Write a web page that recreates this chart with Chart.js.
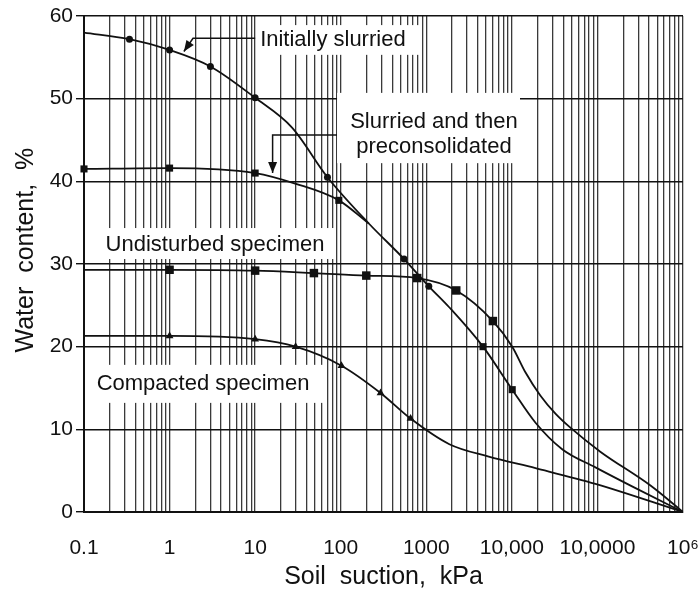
<!DOCTYPE html>
<html>
<head>
<meta charset="utf-8">
<script src="https://cdn.jsdelivr.net/npm/chart.js@4"></script>
<style>
  html, body { margin: 0; padding: 0; background: #fff; }
  #wrap { width: 699px; height: 593px; }
</style>
</head>
<body>
<div id="wrap"><canvas id="swcc"></canvas></div>
<script>
// Drying curves: soil suction (kPa) vs water content (%)
const slurriedSuction = [0.1, 0.34, 1, 3, 10, 27, 70, 213, 550, 1070, 1840, 4600, 10100, 18900, 38700, 94800, 254000, 1e6];
const slurriedWater   = [58.0, 57.2, 55.9, 53.9, 50.1, 46.5, 40.5, 34.9, 30.6, 27.3, 24.8, 20.0, 14.8, 10.8, 7.6, 5.4, 3.1, 0];

const preconSuction = [0.1, 1, 10, 30, 95, 213];
const preconWater   = [41.5, 41.6, 41.0, 39.7, 37.7, 34.9];

const undisturbedSuction = [0.1, 1, 10, 48.6, 199, 783, 2240, 6000, 10100, 14400, 21500, 32300, 48300, 108000, 417000, 1e6];
const undisturbedWater   = [29.3, 29.3, 29.2, 28.9, 28.6, 28.3, 26.8, 23.1, 20.0, 16.9, 14.1, 11.9, 10.2, 7.3, 3.2, 0];

const compactedSuction = [0.1, 1, 10, 29.7, 102, 292, 655, 1860, 5370, 18900, 94800, 1e6];
const compactedWater   = [21.3, 21.3, 20.9, 20.0, 17.7, 14.4, 11.3, 8.2, 6.7, 5.3, 3.4, 0];

// measured points (symbols)
const slurriedPtSuction = [0.34, 1, 3, 10, 70, 550, 1070];
const slurriedPtWater   = [57.2, 55.9, 53.9, 50.1, 40.5, 30.6, 27.3];
const preconPtSuction = [0.1, 1, 10, 95, 4600, 10100];
const preconPtWater   = [41.5, 41.6, 41.0, 37.7, 20.0, 14.8];
const undisturbedPtSuction = [1, 10, 48.6, 199, 783, 2240, 6000];
const undisturbedPtWater   = [29.3, 29.2, 28.9, 28.6, 28.3, 26.8, 23.1];
const compactedPtSuction = [1, 10, 29.7, 102, 292, 655];
const compactedPtWater   = [21.3, 20.9, 20.0, 17.7, 14.4, 11.3];

// axis labels
const suctionTicks  = [0.1, 1, 10, 100, 1000, 1e4, 1e5, 1e6];
const suctionLabels = ['0.1', '1', '10', '100', '1000', '10,000', '10,0000', '10\u2076'];

// callouts, placed in data units
const notes = [
  { text: ['Initially slurried'], at: [81, 57.1], box: [10.8, 58.9, 845, 55.3],
    arrow: [[10, 57.3], [1.88, 57.3], [1.47, 55.7]] },
  { text: ['Slurried and then', 'preconsolidated'], at: [1230, 45.7], box: [90.6, 50.7, 12450, 42.2],
    arrow: [[90.6, 45.6], [16, 45.6], [16, 41.0]] },
  { text: ['Undisturbed specimen'], at: [3.4, 32.3], box: [0.135, 34.35, 85.7, 30.6] },
  { text: ['Compacted specimen'], at: [2.46, 15.5], box: [0.111, 17.8, 65.5, 13.2] }
];

Chart.defaults.font.family = '"Liberation Sans", Arial, sans-serif';
Chart.defaults.color = '#111';

const toPts = (xs, ys) => xs.map((x, i) => ({ x, y: ys[i] }));

const curve = (xs, ys) => ({
  data: toPts(xs, ys),
  showLine: true,
  borderColor: '#111',
  borderWidth: 1.8,
  pointRadius: 0,
  cubicInterpolationMode: 'monotone',
  order: 2
});

const marks = (xs, ys, style, r) => ({
  data: toPts(xs, ys),
  showLine: false,
  pointStyle: style,
  pointRadius: r,
  backgroundColor: '#111',
  borderColor: '#111',
  borderWidth: 0,
  clip: false,
  order: 1
});

// log grid: 1..9 per decade
function gridValues() {
  const v = [];
  for (let e = -1; e < 6; e++) {
    for (let m = 1; m < 10; m++) v.push(m * Math.pow(10, e));
  }
  v.push(1e6);
  return v;
}

function decadeIndex(value) {
  return suctionTicks.findIndex(t => Math.abs(Math.log10(value / t)) < 1e-6);
}

const notePlugin = {
  id: 'notes',
  beforeDatasetsDraw(chart) {
    const { ctx, scales: { x, y } } = chart;
    ctx.save();
    ctx.fillStyle = '#fff';
    notes.forEach(n => {
      const [x0, y0, x1, y1] = n.box;
      const l = x.getPixelForValue(x0), t = y.getPixelForValue(y0);
      ctx.fillRect(l, t, x.getPixelForValue(x1) - l, y.getPixelForValue(y1) - t);
    });
    ctx.restore();
  },
  afterDatasetsDraw(chart) {
    const { ctx, scales: { x, y } } = chart;
    ctx.save();
    ctx.fillStyle = '#111';
    ctx.strokeStyle = '#111';
    ctx.font = '22px "Liberation Sans", Arial, sans-serif';
    ctx.textAlign = 'center';
    ctx.textBaseline = 'middle';
    const lh = 25;
    notes.forEach(n => {
      const cx = x.getPixelForValue(n.at[0]);
      const cy = y.getPixelForValue(n.at[1]) - (n.text.length - 1) * lh / 2;
      n.text.forEach((s, i) => ctx.fillText(s, cx, cy + i * lh));

      if (!n.arrow) return;
      const p = n.arrow.map(([a, b]) => [x.getPixelForValue(a), y.getPixelForValue(b)]);
      ctx.lineWidth = 1.5;
      ctx.beginPath();
      p.forEach(([a, b], i) => i ? ctx.lineTo(a, b) : ctx.moveTo(a, b));
      ctx.stroke();
      // arrow head at the last point
      const [tx, ty] = p[p.length - 1];
      const [fx, fy] = p[p.length - 2];
      const ang = Math.atan2(ty - fy, tx - fx);
      const len = 11, half = 4.5;
      ctx.beginPath();
      ctx.moveTo(tx, ty);
      ctx.lineTo(tx - len * Math.cos(ang) + half * Math.sin(ang), ty - len * Math.sin(ang) - half * Math.cos(ang));
      ctx.lineTo(tx - len * Math.cos(ang) - half * Math.sin(ang), ty - len * Math.sin(ang) + half * Math.cos(ang));
      ctx.closePath();
      ctx.fill();
    });
    ctx.restore();
  }
};

new Chart(document.getElementById('swcc'), {
  type: 'scatter',
  data: {
    datasets: [
      curve(slurriedSuction, slurriedWater),
      curve(preconSuction, preconWater),
      curve(undisturbedSuction, undisturbedWater),
      curve(compactedSuction, compactedWater),
      marks(slurriedPtSuction, slurriedPtWater, 'circle', 3.5),
      marks(preconPtSuction, preconPtWater, 'rect', 5),
      marks(undisturbedPtSuction, undisturbedPtWater, 'rect', 6),
      marks(compactedPtSuction, compactedPtWater, 'triangle', 4.5)
    ]
  },
  options: {
    responsive: true,
    maintainAspectRatio: false,
    animation: false,
    devicePixelRatio: 1,
    layout: { padding: { top: 16, right: 0, left: 0, bottom: 0 } },
    plugins: { legend: { display: false }, tooltip: { enabled: false } },
    scales: {
      x: {
        type: 'logarithmic',
        min: 0.1,
        max: 1e6,
        afterBuildTicks: s => { s.ticks = gridValues().map(value => ({ value })); },
        afterFit: s => { s.height = 81; },
        grid: {
          color: '#3a3a3a',
          lineWidth: 1.3,
          tickLength: 24,
          tickColor: 'rgba(0,0,0,0)'
        },
        border: { color: '#111', width: 2 },
        ticks: {
          autoSkip: false,
          maxRotation: 0,
          padding: 0,
          font: { size: 21 },
          callback: v => {
            const i = decadeIndex(v);
            return i >= 0 ? suctionLabels[i] : '';
          }
        },
        title: {
          display: true,
          text: 'Soil  suction,  kPa',
          font: { size: 25 },
          padding: { top: 0, bottom: 1 }
        }
      },
      y: {
        min: 0,
        max: 60,
        afterFit: s => { s.width = 84; },
        grid: { color: '#111', lineWidth: 1.4, tickLength: 8 },
        border: { color: '#111', width: 2 },
        ticks: { stepSize: 10, padding: 3, font: { size: 21 } },
        title: {
          display: true,
          text: '    Water  content,  %',
          font: { size: 25 },
          padding: { top: 11, bottom: 0 }
        }
      }
    }
  },
  plugins: [notePlugin]
});
</script>
</body>
</html>
